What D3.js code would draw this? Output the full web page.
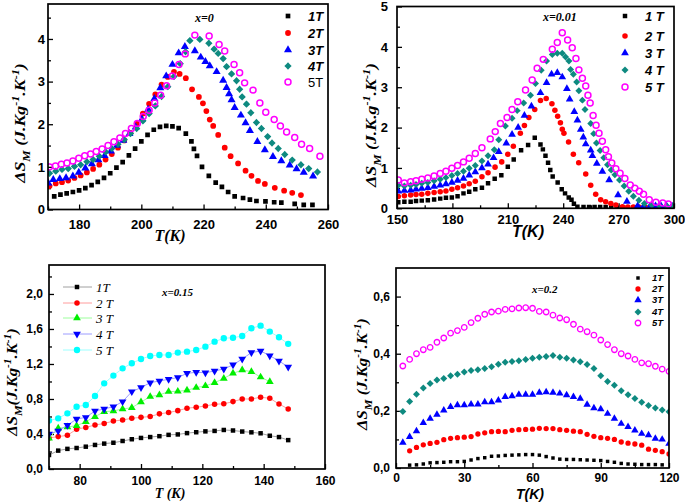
<!DOCTYPE html>
<html><head><meta charset="utf-8">
<script src="https://cdn.jsdelivr.net/npm/d3@7"></script>
<style>body{margin:0;background:#fff}svg{display:block}</style>
</head><body>
<svg id="c" width="685" height="503"></svg>
<script>
// ---------- DATA : [T (K), -ΔS_M] ----------
// x = 0
const x0_1T = [[172,0.31],[174,0.35],[176,0.38],[178,0.41],[180,0.45],[182,0.50],[184,0.57],[186,0.65],[188,0.74],[190,0.85],[192,0.98],[194,1.11],[196,1.27],[198,1.43],[200,1.60],[202,1.75],[204,1.87],[206,1.94],[208,1.96],[210,1.95],[212,1.91],[214.3,1.78],[216.1,1.60],[216.9,1.42],[217.9,1.26],[219.5,1.00],[221.7,0.79],[223.9,0.63],[225.9,0.53],[227.9,0.41],[230,0.31],[232.7,0.27],[234.9,0.23],[237,0.20],[239.9,0.19],[242.7,0.17],[245,0.16],[249.3,0.13],[252.2,0.11],[255,0.11]];
const x0_2T = [[170.5,0.55],[172.5,0.61],[174.5,0.64],[176.5,0.68],[178.5,0.74],[180.5,0.80],[182.5,0.87],[184.5,0.95],[186.5,1.05],[188.5,1.17],[190.5,1.30],[192.5,1.45],[194.5,1.62],[196.5,1.80],[198.5,2.01],[200.5,2.25],[202.5,2.48],[204.5,2.70],[206.5,2.93],[208.5,3.11],[210.5,3.23],[212.3,3.18],[214.3,3.08],[216.3,2.82],[218.5,2.64],[219.8,2.49],[220.9,2.31],[222,2.11],[223.1,1.96],[224.7,1.75],[226.8,1.45],[228.7,1.25],[231.1,1.08],[233.5,0.91],[235.4,0.79],[237.5,0.67],[239.7,0.60],[242.9,0.51],[245.9,0.44],[248.5,0.39],[251.3,0.34]];
const x0_3T = [[170.1,0.62],[171.7,0.70],[173.8,0.72],[175.8,0.74],[178,0.78],[179.9,0.87],[182,0.97],[184.1,1.07],[186.2,1.16],[188.2,1.26],[190.2,1.37],[192.2,1.50],[194.2,1.62],[196.2,1.78],[198.2,1.93],[200.2,2.12],[202.2,2.35],[204.2,2.60],[206.1,2.85],[208,3.13],[210,3.40],[212,3.67],[214,3.82],[217.2,3.72],[219.1,3.57],[220.6,3.47],[222,3.37],[224.2,3.23],[226.3,3.03],[227.4,2.86],[228.2,2.71],[229,2.57],[230,2.39],[232,2.21],[233.5,2.03],[234.9,1.85],[237.3,1.59],[239.7,1.40],[242.3,1.24],[245,1.14],[247.7,1.04],[249.9,0.95],[252.2,0.87],[255.2,0.78]];
const x0_4T = [[170.5,0.85],[172.5,0.90],[174.5,0.94],[176.5,0.96],[178.5,1.01],[180.5,1.05],[182.5,1.12],[184.5,1.17],[186.5,1.25],[188.5,1.35],[190.5,1.43],[192.5,1.53],[194.5,1.64],[196.5,1.78],[198.5,1.90],[200.5,2.08],[202.5,2.25],[204.5,2.43],[206.5,2.65],[208.5,2.88],[210.5,3.12],[212.5,3.42],[214.2,3.70],[215.6,3.96],[218.8,3.99],[221.7,3.90],[223.4,3.76],[224.7,3.66],[226.3,3.54],[227.4,3.35],[229,3.18],[230.6,3.02],[231.6,2.82],[232.4,2.64],[233.8,2.47],[235.2,2.27],[237,2.04],[238.6,1.90],[240.6,1.71],[242,1.56],[244,1.43],[246.1,1.29],[248.5,1.16],[251.3,1.05],[253.8,0.96],[256.6,0.88]];
const x0_5T = [[170.5,1.00],[172.4,1.02],[174.3,1.06],[176.1,1.09],[178,1.14],[179.9,1.20],[181.8,1.26],[183.7,1.30],[185.5,1.36],[187.4,1.42],[189.3,1.50],[191.2,1.59],[193.1,1.68],[194.9,1.78],[196.8,1.90],[198.7,2.02],[200.6,2.18],[202.5,2.33],[204.3,2.50],[206.2,2.68],[208.1,2.90],[210,3.13],[212.1,3.40],[214.1,3.65],[217.2,4.09],[221.8,4.07],[225,3.87],[226.8,3.72],[229.8,3.40],[231.6,3.21],[233.2,2.97],[235.9,2.80],[238.1,2.50],[240,2.28],[242.7,2.11],[244.7,1.96],[246.7,1.82],[249.3,1.69],[251.5,1.53],[254.1,1.43],[257.4,1.25]];

// x = 0.01
const x001_1T = [[150.7,0.15],[154,0.16],[157.4,0.16],[160.3,0.18],[163.4,0.19],[166.7,0.20],[170.1,0.22],[173.4,0.24],[176.5,0.26],[179.7,0.27],[182.8,0.30],[186,0.37],[189.1,0.41],[192.4,0.47],[196,0.51],[199.3,0.62],[202.9,0.73],[206.5,0.82],[210,1.03],[213.2,1.21],[217.2,1.44],[221,1.57],[224.6,1.75],[227.7,1.58],[229,1.46],[230.4,1.30],[231.8,1.13],[233,0.95],[234.3,0.79],[237,0.64],[239.2,0.47],[241,0.37],[243,0.27],[244.5,0.21],[245.8,0.11],[247.7,0.04],[251,0.03],[254,0.03],[257,0.03],[260,0.03],[263,0.03],[266,0.02],[269,0.02],[272,0.02],[275,0.02],[278,0.02],[281,0.02],[284,0.02],[287,0.02],[290,0.02],[293,0.02],[296,0.02],[299,0.02]];
const x001_2T = [[150.7,0.29],[154,0.31],[157.4,0.33],[160.3,0.34],[163.4,0.35],[166.7,0.37],[170.1,0.39],[173.4,0.41],[176.5,0.43],[179.7,0.47],[182.8,0.51],[186,0.55],[189.1,0.61],[192.4,0.67],[196,0.78],[199.3,0.88],[203.1,1.02],[206.7,1.15],[210,1.34],[213,1.54],[216.8,1.86],[219,2.05],[221.4,2.25],[224.6,2.45],[227.7,2.67],[230.8,2.72],[233.9,2.59],[235.5,2.43],[237,2.28],[238.5,2.12],[239.5,1.96],[240.4,1.86],[242.9,1.64],[245.5,1.34],[248.4,1.13],[252.2,0.85],[254.9,0.57],[257.6,0.35],[260.3,0.21],[263,0.16],[265.8,0.12],[268.5,0.08],[272.1,0.04],[275,0.03],[278,0.03],[281,0.03],[284,0.03],[287,0.03],[290,0.03],[293,0.03],[296,0.03],[299,0.03]];
const x001_3T = [[150.7,0.42],[154,0.44],[157.4,0.45],[160.3,0.47],[163.4,0.49],[166.7,0.51],[170.1,0.54],[173.4,0.57],[176.5,0.60],[179.7,0.64],[182.8,0.69],[186,0.74],[189.1,0.82],[192.4,0.90],[196,1.00],[199.3,1.09],[202.3,1.25],[205.1,1.40],[209.2,1.61],[212.3,1.83],[215.6,2.00],[219,2.30],[222.8,2.53],[227.7,2.86],[231,3.11],[233.7,3.32],[236.8,3.36],[239.5,3.25],[242,2.96],[243.5,2.70],[246,2.39],[247.7,2.18],[249.5,1.95],[250.9,1.76],[252.2,1.59],[254.9,1.44],[255.8,1.30],[258.2,1.11],[261.2,0.91],[264.9,0.70],[269.7,0.33],[274.5,0.17],[280.3,0.06],[283.5,0.05],[287,0.05],[290,0.06],[293,0.06],[296,0.06],[299,0.05]];
const x001_4T = [[150.7,0.57],[154,0.55],[157.4,0.57],[160.3,0.59],[163.4,0.62],[166.7,0.64],[170.1,0.68],[173.4,0.72],[176.5,0.76],[179.7,0.81],[182.8,0.86],[186,0.92],[189.1,0.99],[192.4,1.06],[196,1.17],[199.3,1.30],[202.7,1.45],[205.1,1.70],[208.7,2.04],[212.3,2.23],[215.1,2.42],[218.6,2.61],[222.3,2.80],[225,3.09],[228.1,3.42],[231,3.65],[234.1,3.81],[236.8,3.84],[239.5,3.84],[241.3,3.75],[243.1,3.65],[244,3.44],[245.5,3.32],[247.3,3.13],[248.5,2.91],[250.4,2.68],[251.8,2.45],[254.9,2.10],[256.5,1.85],[258,1.62],[260,1.43],[262,1.25],[264,1.08],[266,0.95],[268,0.83],[270.5,0.70],[273,0.55],[275.5,0.42],[278,0.30],[281,0.20],[284,0.12],[288,0.08],[292,0.07],[296,0.06],[299,0.06]];
const x001_5T = [[150.7,0.70],[154,0.63],[157.4,0.66],[160.3,0.68],[163.4,0.72],[166.7,0.75],[170.1,0.80],[173.4,0.86],[176.5,0.92],[179.7,0.99],[182.8,1.06],[186,1.15],[189.1,1.24],[192.4,1.36],[196,1.50],[200.5,1.72],[203.2,1.90],[206,2.10],[209.6,2.25],[212.3,2.45],[215.4,2.64],[219.6,2.93],[223.2,3.18],[225.9,3.47],[229.2,3.69],[234.1,3.94],[236.8,4.11],[239.5,4.35],[242.4,4.17],[244.9,3.98],[246.9,3.71],[248.5,3.43],[250.4,3.22],[252.2,3.03],[253.4,2.80],[254.6,2.61],[256.2,2.30],[257.8,2.06],[259.4,1.86],[261.2,1.66],[263,1.45],[264.5,1.28],[266.3,1.12],[268.5,0.98],[270.8,0.87],[273.4,0.74],[276.3,0.58],[278.8,0.50],[281.2,0.42],[283.5,0.35],[286.6,0.21],[290.2,0.15],[293.9,0.13],[296.9,0.11]];

// x = 0.15
const x015_1T = [[70,0.16],[73,0.21],[76,0.23],[79,0.24],[82,0.255],[85,0.275],[88,0.29],[91,0.30],[94,0.32],[97,0.34],[100,0.355],[103,0.365],[106,0.375],[109,0.39],[112,0.395],[115,0.41],[118,0.42],[121,0.43],[124,0.435],[127,0.446],[130,0.44],[133,0.428],[136,0.419],[139,0.408],[142,0.38],[145,0.365],[148,0.33]];
const x015_2T = [[70,0.355],[73,0.37],[76,0.385],[79,0.455],[82,0.475],[85,0.503],[88,0.52],[91,0.548],[94,0.56],[97,0.58],[100,0.59],[103,0.60],[106,0.63],[109,0.645],[112,0.667],[115,0.695],[118,0.705],[121,0.72],[124,0.74],[127,0.745],[130,0.77],[133,0.80],[136,0.80],[139,0.82],[142,0.808],[145,0.743],[148,0.686]];
const x015_3T = [[70,0.35],[73,0.465],[76,0.48],[79,0.495],[82,0.54],[85,0.598],[88,0.655],[91,0.663],[94,0.686],[97,0.70],[100,0.765],[103,0.827],[106,0.846],[109,0.884],[112,0.887],[115,0.90],[118,0.93],[121,0.95],[124,0.986],[127,1.035],[130,1.093],[133,1.131],[136,1.112],[139,1.05],[142,0.998]];
const x015_4T = [[70,0.40],[73,0.435],[76,0.50],[79,0.571],[82,0.59],[85,0.663],[88,0.686],[91,0.712],[94,0.77],[97,0.884],[100,0.93],[103,0.986],[106,1.006],[109,1.025],[112,1.045],[115,1.093],[118,1.105],[121,1.10],[124,1.12],[127,1.143],[130,1.19],[133,1.257],[136,1.33],[139,1.349],[142,1.295],[145,1.235],[148,1.165]];
const x015_5T = [[70,0.553],[73,0.579],[76,0.636],[79,0.712],[82,0.731],[85,0.834],[88,0.979],[91,1.067],[94,1.15],[97,1.208],[100,1.257],[103,1.291],[106,1.303],[109,1.303],[112,1.33],[115,1.341],[118,1.36],[121,1.398],[124,1.455],[127,1.494],[130,1.50],[133,1.52],[136,1.608],[139,1.638],[142,1.57],[145,1.505],[148,1.43]];

// x = 0.2
const x02_1T = [[6,0.010],[9,0.011],[12,0.014],[15,0.018],[18,0.019],[21,0.020],[24,0.022],[27,0.022],[30,0.023],[33,0.028],[36,0.033],[39,0.036],[42,0.041],[45,0.042],[48,0.044],[51,0.045],[54,0.046],[57,0.047],[60,0.047],[63,0.045],[66,0.040],[69,0.035],[72,0.031],[75,0.030],[78,0.030],[81,0.029],[84,0.028],[87,0.027],[90,0.026],[93,0.023],[96,0.020],[99,0.016],[102,0.014],[105,0.013],[108,0.012],[111,0.012],[114,0.012],[117,0.011]];
const x02_2T = [[6,0.060],[9,0.072],[12,0.081],[15,0.086],[18,0.090],[21,0.099],[24,0.104],[27,0.106],[30,0.108],[33,0.110],[36,0.119],[39,0.123],[42,0.127],[45,0.128],[48,0.127],[51,0.132],[54,0.134],[57,0.135],[60,0.136],[63,0.139],[66,0.138],[69,0.138],[72,0.134],[75,0.132],[78,0.129],[81,0.127],[84,0.118],[87,0.111],[90,0.106],[93,0.104],[96,0.100],[99,0.091],[102,0.087],[105,0.084],[108,0.080],[111,0.066],[114,0.062],[117,0.057],[120,0.049]];
const x02_3T = [[3,0.089],[6,0.109],[9,0.129],[12,0.158],[15,0.173],[18,0.187],[21,0.202],[24,0.214],[27,0.220],[30,0.220],[33,0.223],[36,0.223],[39,0.231],[42,0.231],[45,0.237],[48,0.249],[51,0.252],[54,0.257],[57,0.257],[60,0.257],[63,0.264],[66,0.266],[69,0.264],[72,0.261],[75,0.255],[78,0.249],[81,0.243],[84,0.222],[87,0.210],[90,0.206],[93,0.190],[96,0.173],[99,0.155],[102,0.144],[105,0.132],[108,0.120],[111,0.115],[114,0.103],[117,0.100],[120,0.085]];
const x02_4T = [[3,0.198],[6,0.233],[9,0.258],[12,0.280],[15,0.296],[18,0.308],[21,0.313],[24,0.323],[27,0.328],[30,0.336],[33,0.341],[36,0.344],[39,0.348],[42,0.354],[45,0.363],[48,0.370],[51,0.373],[54,0.375],[57,0.380],[60,0.384],[63,0.388],[66,0.390],[69,0.394],[72,0.388],[75,0.384],[78,0.378],[81,0.372],[84,0.362],[87,0.348],[90,0.323],[93,0.303],[96,0.290],[99,0.270],[102,0.256],[105,0.243],[108,0.230],[111,0.219],[114,0.210],[117,0.203],[120,0.197]];
const x02_5T = [[3,0.357],[6,0.380],[9,0.400],[12,0.414],[15,0.422],[18,0.440],[21,0.455],[24,0.472],[27,0.481],[30,0.492],[33,0.509],[36,0.524],[39,0.538],[42,0.546],[45,0.549],[48,0.555],[51,0.557],[54,0.560],[57,0.561],[60,0.559],[63,0.548],[66,0.546],[69,0.535],[72,0.525],[75,0.519],[78,0.503],[81,0.486],[84,0.477],[87,0.465],[90,0.448],[93,0.432],[96,0.414],[99,0.400],[102,0.392],[105,0.380],[108,0.368],[111,0.365],[114,0.356],[117,0.346],[120,0.338]];

// tick values / labels
const x0_xTicks = [180,200,220,240,260], x0_yTicks = [0,1,2,3,4];
const x001_xTicks = [150,180,210,240,270,300], x001_yTicks = [0,1,2,3,4,5];
const x015_xTicks = [80,100,120,140,160], x015_yTicks = [0,0.4,0.8,1.2,1.6,2.0];
const x02_xTicks = [0,30,60,90,120], x02_yTicks = [0,0.2,0.4,0.6];
const legend_x0 = ["1T","2T","3T","4T","5T"];
const legend_x001 = ["1 T","2 T","3 T","4 T","5 T"];
const legend_x015 = ["1T","2 T","3 T","4 T","5 T"];
const legend_x02 = ["1T","2T","3T","4T","5T"];

// ---------- DRAWING ----------
const svg = d3.select('#c');
const SANS = "'Liberation Sans', Arial, sans-serif";
const SERIF = "'Liberation Serif', 'Times New Roman', serif";

const star4 = { draw(ctx, size){ const r=Math.sqrt(size)*0.78, q=r*0.5;
  ctx.moveTo(0,-r); ctx.lineTo(q,-q); ctx.lineTo(r,0); ctx.lineTo(q,q);
  ctx.lineTo(0,r); ctx.lineTo(-q,q); ctx.lineTo(-r,0); ctx.lineTo(-q,-q); ctx.closePath(); } };

function richText(g, parts, fs){
  const t = g.append('text');
  let shift = 0;
  parts.forEach(([s,k])=>{
    const ts = t.append('tspan').text(s);
    let target = 0, size = fs;
    if(k==='sub'){ target = fs*0.32; size = fs*0.72; }
    if(k==='sup'){ target = -fs*0.38; size = fs*0.68; }
    ts.attr('font-size', size).attr('dy', target-shift);
    shift = target;
  });
  return t;
}

function drawPanel(p){
  const g = svg.append('g');
  const x = d3.scaleLinear().domain(p.xDom).range([p.L,p.R]);
  const y = d3.scaleLinear().domain(p.yDom).range([p.B,p.T]);
  const cid = 'clip'+p.id;
  svg.append('clipPath').attr('id',cid).append('rect')
    .attr('x',p.L).attr('y',p.T).attr('width',p.R-p.L).attr('height',p.B-p.T);

  // axes (inward ticks)
  const fs = p.tickFs;
  const xa = g.append('g').attr('transform',`translate(0,${p.B})`)
    .call(d3.axisBottom(x).tickValues(p.xTicks).tickSizeInner(-5).tickSizeOuter(0).tickPadding(p.xPad).tickFormat(p.xFmt||d3.format('d')));
  const xm = g.append('g').attr('transform',`translate(0,${p.B})`)
    .call(d3.axisBottom(x).tickValues(p.xMinor).tickSizeInner(-3).tickSizeOuter(0).tickFormat(''));
  const ya = g.append('g').attr('transform',`translate(${p.L},0)`)
    .call(d3.axisLeft(y).tickValues(p.yTicks).tickSizeInner(-5).tickSizeOuter(0).tickPadding(p.yPad).tickFormat(p.yFmt));
  const ym = g.append('g').attr('transform',`translate(${p.L},0)`)
    .call(d3.axisLeft(y).tickValues(p.yMinor).tickSizeInner(-3).tickSizeOuter(0).tickFormat(''));
  [xa,xm,ya,ym].forEach(a=>{ a.select('.domain').remove();
    a.selectAll('line').attr('stroke','#000').attr('stroke-width',1.3);
    a.selectAll('text').attr('font-family',SANS).attr('font-weight','bold').attr('font-size',fs).attr('fill','#000'); });

  // series
  const pg = g.append('g').attr('clip-path',`url(#${cid})`);
  p.series.forEach(s=>{
    if(s.line){
      pg.append('path').datum(s.data).attr('fill','none').attr('stroke',s.line).attr('stroke-width',1)
        .attr('d', d3.line().x(d=>x(d[0])).y(d=>y(d[1])));
    }
    const sym = d3.symbol().type(s.type).size(s.size);
    pg.selectAll(null).data(s.data).enter().append('path')
      .attr('d', sym)
      .attr('transform', d=>`translate(${x(d[0])},${y(d[1])})${s.rot?' rotate(180)':''}`)
      .attr('fill', s.open ? 'none' : s.color)
      .attr('stroke', s.open ? s.color : 'none')
      .attr('stroke-width', s.open ? s.sw : 0);
  });

  // frame
  g.append('rect').attr('x',p.L).attr('y',p.T).attr('width',p.R-p.L).attr('height',p.B-p.T)
    .attr('fill','none').attr('stroke','#000').attr('stroke-width',1.7);

  // legend
  const lg = p.legend;
  p.series.forEach((s,i)=>{
    const cy = lg.rows[i];
    if(s.line){
      g.append('line').attr('x1',lg.lx1).attr('x2',lg.lx2).attr('y1',cy).attr('y2',cy)
        .attr('stroke',s.line).attr('stroke-width',1);
    }
    const sym = d3.symbol().type(s.type).size(s.size);
    g.append('path').attr('d',sym)
      .attr('transform',`translate(${lg.mx},${cy})${s.rot?' rotate(180)':''}`)
      .attr('fill', s.open ? 'none' : s.color)
      .attr('stroke', s.open ? s.color : 'none')
      .attr('stroke-width', s.open ? s.sw : 0);
    const st = lg.styles ? lg.styles[i] : {};
    g.append('text').attr('x',lg.tx).attr('y',cy + lg.fs*0.36)
      .attr('font-family', st.family || lg.family).attr('font-style', st.style || 'italic')
      .attr('font-weight', st.weight || lg.weight).attr('font-size',lg.fs)
      .text(lg.labels[i]);
  });

  // sample annotation
  g.append('text').attr('x',p.ann.x).attr('y',p.ann.y).attr('font-family',SERIF)
    .attr('font-style','italic').attr('font-weight','bold').attr('font-size',p.ann.fs).text(p.ann.text);

  // axis titles
  g.append('text').attr('x',p.xt.x).attr('y',p.xt.y).attr('text-anchor','middle')
    .attr('font-family',p.xt.family).attr('font-style','italic').attr('font-weight','bold')
    .attr('font-size',p.xt.fs).text(p.xt.text);
  const yt = g.append('g').attr('transform',`translate(${p.yt.x},${p.yt.y}) rotate(-90) scale(1.15,1)`);
  const t = richText(yt, p.yt.parts, p.yt.fs);
  t.attr('text-anchor','middle').attr('font-family',SERIF).attr('font-style','italic').attr('font-weight','bold');
}

const comma1 = v => d3.format('.1f')(v).replace('.',',');
const SQ = d3.symbolSquare, CI = d3.symbolCircle, TR = d3.symbolTriangle;

// Panel x=0
drawPanel({ id:'a', L:48, R:328, T:4, B:209.5, xDom:[170,260], yDom:[0,4.82],
  xTicks:x0_xTicks, xMinor:[170,190,210,230,250], yTicks:x0_yTicks, yMinor:[0.5,1.5,2.5,3.5,4.5],
  yFmt:d3.format('d'), tickFs:13, xPad:10, yPad:3,
  series:[
    {data:x0_1T, type:SQ, size:22, color:'#000'},
    {data:x0_2T, type:CI, size:26, color:'#ff0000'},
    {data:x0_3T, type:TR, size:28, color:'#0000ff'},
    {data:x0_4T, type:star4, size:22, color:'#0e8a80'},
    {data:x0_5T, type:CI, size:28, color:'#ff00ff', open:true, sw:1.5}],
  legend:{ mx:288, tx:308, rows:[16,33,50,66,82], fs:13, family:SANS, weight:'bold', labels:legend_x0,
    styles:[{},{},{},{},{style:'normal',weight:'normal'}] },
  ann:{x:195, y:22, fs:12, text:'x=0'},
  xt:{x:170, y:241, fs:16, family:SERIF, text:'T(K)'},
  yt:{x:25, y:123, fs:15.5, parts:[['ΔS',''],['M','sub'],[' (J.Kg',''],['-1','sup'],['.K',''],['-1','sup'],[')','']]}
});

// Panel x=0.01
drawPanel({ id:'b', L:397, R:674, T:6.5, B:208.3, xDom:[150,300], yDom:[0,5],
  xTicks:x001_xTicks, xMinor:[165,195,225,255,285], yTicks:x001_yTicks, yMinor:[0.5,1.5,2.5,3.5,4.5],
  yFmt:d3.format('d'), tickFs:13, xPad:6, yPad:9,
  series:[
    {data:x001_1T, type:SQ, size:20, color:'#000'},
    {data:x001_2T, type:CI, size:24, color:'#ff0000'},
    {data:x001_3T, type:TR, size:26, color:'#0000ff'},
    {data:x001_4T, type:star4, size:20, color:'#0e8a80'},
    {data:x001_5T, type:CI, size:28, color:'#ff00ff', open:true, sw:1.5}],
  legend:{ mx:625, tx:645, rows:[16,36,53,70,87], fs:13, family:SANS, weight:'bold', labels:legend_x001 },
  ann:{x:543, y:21, fs:12, text:'x=0.01'},
  xt:{x:528, y:237, fs:16, family:SANS, text:'T(K)'},
  yt:{x:376, y:125, fs:15.5, parts:[['ΔS',''],['M','sub'],[' (J.K.g',''],['-1','sup'],['.K',''],['-1','sup'],[')','']]}
});

// Panel x=0.15
drawPanel({ id:'c', L:49, R:325, T:265, B:469, xDom:[70,160], yDom:[0,2.331],
  xTicks:x015_xTicks, xMinor:[70,90,110,130,150], yTicks:x015_yTicks, yMinor:[0.2,0.6,1.0,1.4,1.8,2.2],
  yFmt:comma1, tickFs:12, xPad:7, yPad:6,
  series:[
    {data:x015_1T, type:SQ, size:20, color:'#000', line:'#a0a0a0'},
    {data:x015_2T, type:CI, size:24, color:'#ff0000', line:'#ff9c9c'},
    {data:x015_3T, type:TR, size:26, color:'#00ee00', line:'#9cff9c'},
    {data:x015_4T, type:TR, size:26, color:'#0000ff', line:'#9c9cff', rot:true},
    {data:x015_5T, type:CI, size:32, color:'#00ffff', line:'#9cffff'}],
  legend:{ mx:77, lx1:63, lx2:92, tx:96, rows:[287,303,318,334,350], fs:13, family:SERIF, weight:'normal', labels:legend_x015 },
  ann:{x:162, y:296, fs:11, text:'x=0.15'},
  xt:{x:170, y:498, fs:14, family:SERIF, text:'T (K)'},
  yt:{x:17, y:382, fs:14.5, parts:[['ΔS',''],['M','sub'],['(J.Kg',''],['-1','sup'],['.K',''],['-1','sup'],[')','']]}
});

// Panel x=0.2
drawPanel({ id:'d', L:396, R:669, T:268, B:468, xDom:[0,120], yDom:[0,0.7],
  xTicks:x02_xTicks, xMinor:[15,45,75,105], yTicks:x02_yTicks, yMinor:[0.1,0.3,0.5],
  yFmt:comma1, tickFs:12, xPad:5, yPad:6,
  series:[
    {data:x02_1T, type:SQ, size:12, color:'#000'},
    {data:x02_2T, type:CI, size:22, color:'#ff0000'},
    {data:x02_3T, type:TR, size:24, color:'#0000ff'},
    {data:x02_4T, type:star4, size:20, color:'#0e8a80'},
    {data:x02_5T, type:CI, size:24, color:'#ff00ff', open:true, sw:1.3}],
  legend:{ mx:638, tx:652, rows:[278,289,300,312,323], fs:9.5, family:SANS, weight:'bold', labels:legend_x02 },
  ann:{x:532, y:293, fs:11, text:'x=0.2'},
  xt:{x:530, y:499, fs:14, family:SANS, text:'T(K)'},
  yt:{x:367, y:374, fs:14.5, parts:[['ΔS',''],['M','sub'],[' (J.Kg',''],['-1','sup'],['.K',''],['-1','sup'],[')','']]}
});
</script>
</body></html>
